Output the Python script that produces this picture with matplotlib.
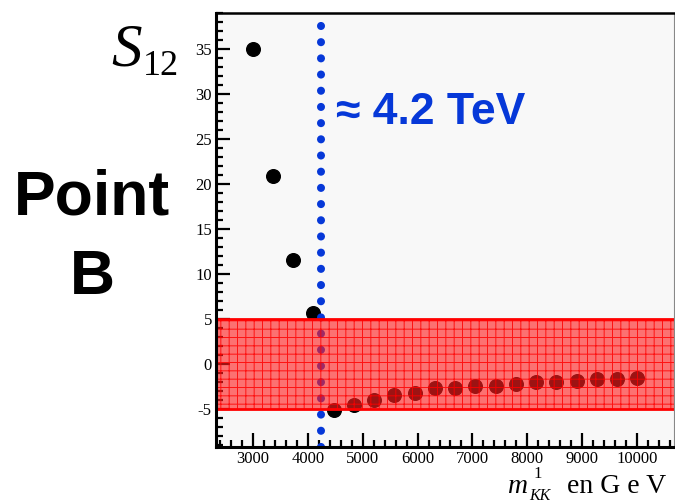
import matplotlib
matplotlib.use("Agg")
import matplotlib.pyplot as plt
from matplotlib.ticker import MultipleLocator

# Data
mkk = [3000, 3368, 3737, 4105, 4474, 4842, 5211, 5579, 5947, 6316,
       6684, 7053, 7421, 7789, 8158, 8526, 8895, 9263, 9632, 10000]
s12 = [35.0, 20.9, 11.6, 5.7, -5.1, -4.5, -4.0, -3.4, -3.2, -2.6,
       -2.6, -2.4, -2.4, -2.15, -2.0, -2.0, -1.85, -1.7, -1.6, -1.5]
band_low, band_high = -5, 5
limit_mass = 4240
xticks = [3000, 4000, 5000, 6000, 7000, 8000, 9000, 10000]
yticks = [-5, 0, 5, 10, 15, 20, 25, 30, 35]

plt.rcParams['axes.unicode_minus'] = False
plt.rcParams['hatch.linewidth'] = 0.7

fig = plt.figure(figsize=(6.75, 5.04), dpi=100)
ax = fig.add_axes([216/675, 1-447/504, (674-216)/675, (447-13)/504])
ax.set_facecolor('#f8f8f8')

ax.plot(mkk, s12, 'o', color='black', ms=9.8, zorder=2)
ax.axvline(limit_mass, color='#0638d8', lw=5.8, linestyle=(0, (0.01, 2.0)),
           dash_capstyle='round', zorder=2.2)
ax.axhspan(band_low, band_high, facecolor=(1, 0.12, 0.12, 0.62), edgecolor=(1, 0, 0, 0.85),
           hatch='++', lw=0, zorder=3)
ax.axhline(band_low, color='red', lw=2, zorder=4)
ax.axhline(band_high, color='red', lw=2, zorder=4)

ax.set_xlim(2330, 10670)
ax.set_ylim(-9.2, 39)
ax.set_xticks(xticks)
ax.set_yticks(yticks)
ax.xaxis.set_minor_locator(MultipleLocator(200))
ax.yaxis.set_minor_locator(MultipleLocator(1))
ax.tick_params(which='both', direction='in', top=False, right=False, width=1.6,
               labelsize=12, pad=3)
ax.tick_params(which='major', length=10)
ax.tick_params(which='minor', length=5)
for lab in ax.get_xticklabels() + ax.get_yticklabels():
    lab.set_fontfamily('Liberation Serif')

ax.spines['left'].set_linewidth(2.2)
ax.spines['bottom'].set_linewidth(2.2)
ax.spines['top'].set_linewidth(1.8)
ax.spines['right'].set_linewidth(0.8)
ax.spines['right'].set_color('#888888')
for s in ax.spines.values():
    s.set_zorder(5)

ax.text(4520, 28, '\u2248 4.2 TeV', color='#0638d8', fontsize=32, fontweight='bold',
        family='Liberation Sans', va='center', ha='left', zorder=6)

fig.text(92/675, 1-198/504, 'Point', fontsize=45, fontweight='bold',
         family='Liberation Sans', ha='center', va='center')
fig.text(92/675, 1-278/504, 'B', fontsize=45, fontweight='bold',
         family='Liberation Sans', ha='center', va='center')

fig.text(111/675, 1-65/504, 'S', fontsize=44, style='italic',
         family='Liberation Serif', ha='left', va='baseline')
fig.text(143/675, 1-75/504, '12', fontsize=26,
         family='Liberation Serif', ha='left', va='baseline')

fig.text(508/675, 1-493/504, 'm', fontsize=20, style='italic',
         family='Liberation Serif', ha='left', va='baseline')
fig.text(533/675, 1-478/504, '1', fontsize=12,
         family='Liberation Serif', ha='left', va='baseline')
fig.text(529/675, 1-500/504, 'KK', fontsize=11.5, style='italic',
         family='Liberation Serif', ha='left', va='baseline')
fig.text(567/675, 1-493/504, 'en G e V', fontsize=20,
         family='Liberation Serif', ha='left', va='baseline')

fig.savefig('out.png', dpi=100)
